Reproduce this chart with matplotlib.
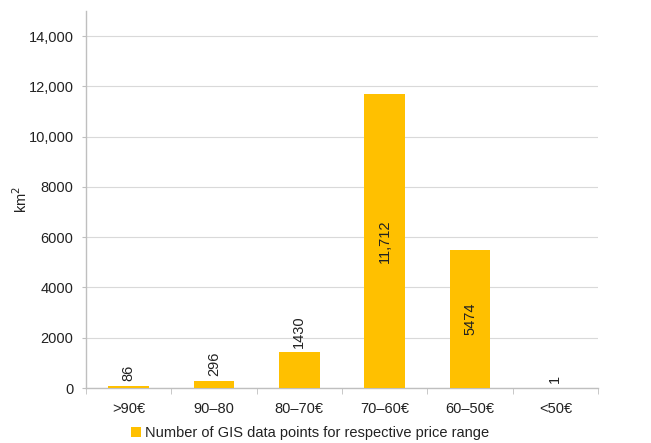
import matplotlib.pyplot as plt
import numpy as np

plt.rcParams['font.family'] = ['Liberation Sans', 'DejaVu Sans']

categories = [">90€", "90–80", "80–70€", "70–60€", "60–50€", "<50€"]
areas = [86, 296, 1430, 11712, 5474, 1]
value_labels = ["86", "296", "1430", "11,712", "5474", "1"]
y_ticks = [0, 2000, 4000, 6000, 8000, 10000, 12000, 14000]
y_tick_labels = ["0", "2000", "4000", "6000", "8000", "10,000", "12,000", "14,000"]

bar_color = "#FFC000"
grid_color = "#D9D9D9"
spine_color = "#BFBFBF"
text_color = "#222222"

fig = plt.figure(figsize=(6.51, 4.43), dpi=100)
ax = fig.add_axes([86 / 651, 55 / 443, 512 / 651, 377 / 443])

x = np.arange(len(categories))
bars = ax.bar(x, areas, width=0.48, color=bar_color,
              label="Number of GIS data points for respective price range", zorder=3)

# value labels: inside the tall bars, above the short ones
for rect, val, txt in zip(bars, areas, value_labels):
    cx = rect.get_x() + rect.get_width() / 2
    if val > 4000:
        ax.text(cx, val / 2, txt, rotation=90, ha="center", va="center",
                fontsize=10.5, color=text_color, zorder=4)
    else:
        ax.text(cx, val + 180, txt, rotation=90, ha="center", va="bottom",
                fontsize=10.5, color=text_color, zorder=4)

ax.set_xlim(-0.5, len(categories) - 0.5)
ax.set_ylim(0, 15000)
ax.set_yticks(y_ticks)
ax.set_yticklabels(y_tick_labels, fontsize=10.5, color=text_color)
ax.set_xticks(x)
ax.set_xticklabels(categories, fontsize=10.5, color=text_color)
ax.tick_params(axis="x", length=0, pad=10)
ax.tick_params(axis="y", length=3, color=spine_color, pad=6)

# category separators on the x axis
ax.set_xticks(np.arange(len(categories) + 1) - 0.5, minor=True)
ax.tick_params(axis="x", which="minor", length=4, color=spine_color)

ax.grid(axis="y", color=grid_color, linewidth=0.8, zorder=0)
for side in ["top", "right"]:
    ax.spines[side].set_visible(False)
for side in ["left", "bottom"]:
    ax.spines[side].set_color(spine_color)
    ax.spines[side].set_linewidth(1.0)

ax.set_ylabel("km$^2$", fontsize=10.5, color=text_color)
ax.yaxis.set_label_coords(-56 / 512, 0.5)

fig.legend(loc="center", bbox_to_anchor=(310 / 651, 1 - 433 / 443), frameon=False,
           fontsize=10.5, handlelength=0.7, handleheight=0.7, handletextpad=0.3,
           labelcolor=text_color)

fig.savefig("out.png", dpi=100)
